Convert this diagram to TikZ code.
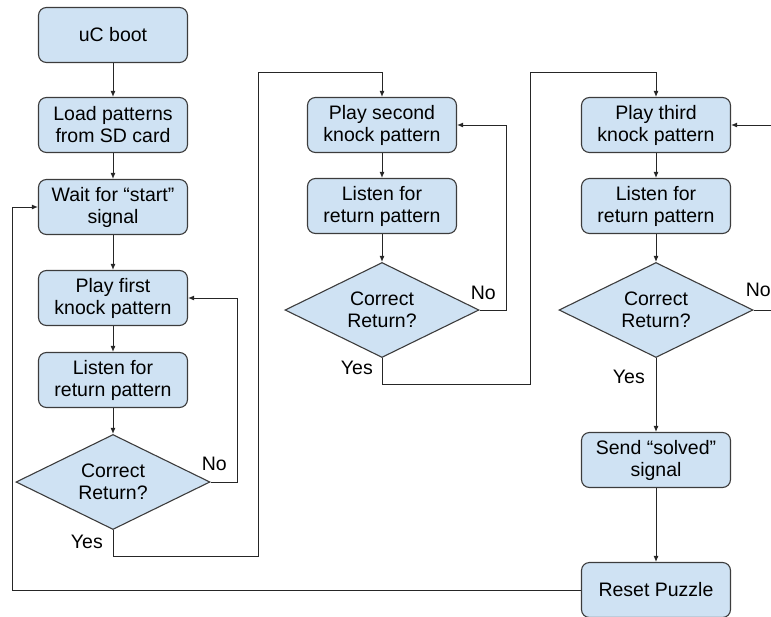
\documentclass[tikz,border=0pt]{standalone}
\usepackage{fontspec}
\setmainfont{Liberation Sans}
\usetikzlibrary{shapes.geometric, arrows.meta}
\definecolor{boxblau}{HTML}{CFE2F3}
\definecolor{rand}{HTML}{3C3C3C}

\begin{document}
\begin{tikzpicture}[x=1pt, y=-1pt,
		>={Latex[length=6pt,width=5pt]},   %Pfeilspitzen
		kasten/.style={draw=rand, fill=boxblau, line width=1.1pt, rounded corners=8pt, minimum width=149pt, minimum height=55pt, inner sep=0pt, align=center},
		frage/.style={draw=rand, fill=boxblau, line width=1.1pt, diamond, aspect=2, minimum width=194pt, minimum height=95pt, inner sep=0pt, align=center},
		pfeil/.style={->, draw=black!85, line width=1pt},
		font=\fontsize{19.5}{22}\selectfont]
		%Bildbereich
		\useasboundingbox (0,0) rectangle (771,616);
		\clip (0,0) rectangle (771,616);
		% Erste Spalte
		\node[kasten] (boot) at (113,35) {uC boot};
		\node[kasten] (laden) at (113,125) {Load patterns\\from SD card};
		\node[kasten] (warten) at (113,207) {Wait for “start”\\signal};
		\node[kasten] (spiel1) at (113,298) {Play first\\knock pattern};
		\node[kasten] (hoer1) at (113,380) {Listen for\\return pattern};
		\node[frage] (frage1) at (113,482) {Correct\\Return?};
		% Zweite Spalte
		\node[kasten] (spiel2) at (382,125) {Play second\\knock pattern};
		\node[kasten] (hoer2) at (382,206) {Listen for\\return pattern};
		\node[frage] (frage2) at (382,310) {Correct\\Return?};
		% Dritte Spalte
		\node[kasten] (spiel3) at (656,125) {Play third\\knock pattern};
		\node[kasten] (hoer3) at (656,206) {Listen for\\return pattern};
		\node[frage] (frage3) at (656,310) {Correct\\Return?};
		\node[kasten] (senden) at (656,460) {Send “solved”\\signal};
		\node[kasten] (reset) at (656,590) {Reset Puzzle};
		% Knickpunkte
		\coordinate (knick1) at (258,72);
		\coordinate (knick2) at (530,72);
		\coordinate (knick3) at (12,207);
		% Verbindungen
		\draw[pfeil] (boot) -- (laden);
		\draw[pfeil] (laden) -- (warten);
		\draw[pfeil] (warten) -- (spiel1);
		\draw[pfeil] (spiel1) -- (hoer1);
		\draw[pfeil] (hoer1) -- (frage1);
		\draw[pfeil] (frage1.east) -- ++(27,0) |- (spiel1.east);
		\draw[pfeil] (frage1.south) -- ++(0,26) -| (knick1) -| (spiel2.north);
		\draw[pfeil] (spiel2) -- (hoer2);
		\draw[pfeil] (hoer2) -- (frage2);
		\draw[pfeil] (frage2.east) -- ++(27,0) |- (spiel2.east);
		\draw[pfeil] (frage2.south) -- ++(0,26) -| (knick2) -| (spiel3.north);
		\draw[pfeil] (spiel3) -- (hoer3);
		\draw[pfeil] (hoer3) -- (frage3);
		\draw[pfeil] (frage3.east) -- ++(40,0) |- (spiel3.east);
		\draw[pfeil] (frage3) -- (senden);
		\draw[pfeil] (senden) -- (reset);
		\draw[pfeil] (reset.west) -| (knick3) -- (warten.west);
		%Beschriftung
		\node[anchor=base west, inner sep=0pt] (nein1) at ([xshift=-9pt, yshift=12pt]frage1.east) {No};
		\node[anchor=base west, inner sep=0pt] (nein2) at ([xshift=-9pt, yshift=11pt]frage2.east) {No};
		\node[anchor=base west, inner sep=0pt] (nein3) at ([xshift=-8pt, yshift=14pt]frage3.east) {No};
		\node[anchor=base east, inner sep=0pt] (ja1) at ([xshift=-10pt, yshift=-18pt]frage1.south) {Yes};
		\node[anchor=base east, inner sep=0pt] (ja2) at ([xshift=-9pt, yshift=-16pt]frage2.south) {Yes};
		\node[anchor=base east, inner sep=0pt] (ja3) at ([xshift=-11pt, yshift=-25pt]frage3.south) {Yes};
	\end{tikzpicture}
\end{document}
